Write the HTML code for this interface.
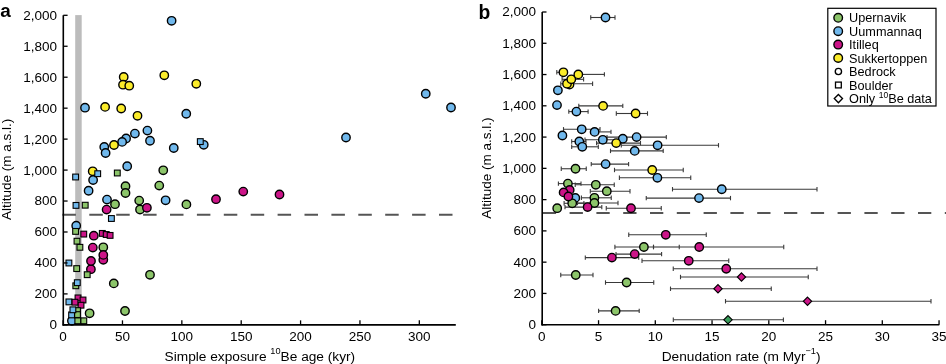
<!DOCTYPE html>
<html><head><meta charset="utf-8"><style>
html,body{margin:0;padding:0;background:#fff;}
body{width:946px;height:364px;overflow:hidden;}
svg{display:block;font-family:"Liberation Sans",sans-serif;will-change:transform;}
</style></head><body>
<svg width="946" height="364" viewBox="0 0 946 364">
<rect width="946" height="364" fill="#fff"/>
<rect x="75.2" y="15.1" width="6.5" height="309.75" fill="#bcbcbc"/>
<line x1="62.4" y1="214.7" x2="455" y2="214.7" stroke="#555" stroke-width="2" stroke-dasharray="13.5 13.4"/>
<line x1="542.8" y1="213.1" x2="946" y2="213.1" stroke="#555" stroke-width="2" stroke-dasharray="13.3 13.5"/>
<circle cx="76.20" cy="225.70" r="4.2" fill="#70b8ec" stroke="#000" stroke-width="1.4"/>
<circle cx="92.70" cy="171.30" r="4.2" fill="#fbec2a" stroke="#000" stroke-width="1.4"/>
<circle cx="71.90" cy="320.80" r="4.2" fill="#70b8ec" stroke="#000" stroke-width="1.4"/>
<circle cx="171.60" cy="20.80" r="4.2" fill="#70b8ec" stroke="#000" stroke-width="1.4"/>
<circle cx="85.00" cy="107.70" r="4.2" fill="#70b8ec" stroke="#000" stroke-width="1.4"/>
<circle cx="186.25" cy="113.75" r="4.2" fill="#70b8ec" stroke="#000" stroke-width="1.4"/>
<circle cx="147.40" cy="130.60" r="4.2" fill="#70b8ec" stroke="#000" stroke-width="1.4"/>
<circle cx="134.90" cy="133.60" r="4.2" fill="#70b8ec" stroke="#000" stroke-width="1.4"/>
<circle cx="126.10" cy="138.50" r="4.2" fill="#70b8ec" stroke="#000" stroke-width="1.4"/>
<circle cx="122.10" cy="141.90" r="4.2" fill="#70b8ec" stroke="#000" stroke-width="1.4"/>
<circle cx="150.00" cy="140.75" r="4.2" fill="#70b8ec" stroke="#000" stroke-width="1.4"/>
<circle cx="104.25" cy="146.90" r="4.2" fill="#70b8ec" stroke="#000" stroke-width="1.4"/>
<circle cx="105.60" cy="153.00" r="4.2" fill="#70b8ec" stroke="#000" stroke-width="1.4"/>
<circle cx="173.75" cy="148.00" r="4.2" fill="#70b8ec" stroke="#000" stroke-width="1.4"/>
<circle cx="203.75" cy="144.80" r="4.2" fill="#70b8ec" stroke="#000" stroke-width="1.4"/>
<circle cx="127.20" cy="166.25" r="4.2" fill="#70b8ec" stroke="#000" stroke-width="1.4"/>
<circle cx="93.10" cy="180.00" r="4.2" fill="#70b8ec" stroke="#000" stroke-width="1.4"/>
<circle cx="88.60" cy="190.75" r="4.2" fill="#70b8ec" stroke="#000" stroke-width="1.4"/>
<circle cx="107.00" cy="199.60" r="4.2" fill="#70b8ec" stroke="#000" stroke-width="1.4"/>
<circle cx="165.60" cy="200.30" r="4.2" fill="#70b8ec" stroke="#000" stroke-width="1.4"/>
<circle cx="425.75" cy="93.75" r="4.2" fill="#70b8ec" stroke="#000" stroke-width="1.4"/>
<circle cx="451.00" cy="107.50" r="4.2" fill="#70b8ec" stroke="#000" stroke-width="1.4"/>
<circle cx="346.00" cy="137.50" r="4.2" fill="#70b8ec" stroke="#000" stroke-width="1.4"/>
<circle cx="123.70" cy="77.00" r="4.2" fill="#fbec2a" stroke="#000" stroke-width="1.4"/>
<circle cx="123.00" cy="84.70" r="4.2" fill="#fbec2a" stroke="#000" stroke-width="1.4"/>
<circle cx="129.25" cy="85.70" r="4.2" fill="#fbec2a" stroke="#000" stroke-width="1.4"/>
<circle cx="164.30" cy="75.30" r="4.2" fill="#fbec2a" stroke="#000" stroke-width="1.4"/>
<circle cx="196.30" cy="83.80" r="4.2" fill="#fbec2a" stroke="#000" stroke-width="1.4"/>
<circle cx="105.10" cy="106.90" r="4.2" fill="#fbec2a" stroke="#000" stroke-width="1.4"/>
<circle cx="121.20" cy="108.50" r="4.2" fill="#fbec2a" stroke="#000" stroke-width="1.4"/>
<circle cx="137.50" cy="115.80" r="4.2" fill="#fbec2a" stroke="#000" stroke-width="1.4"/>
<circle cx="114.00" cy="145.00" r="4.2" fill="#fbec2a" stroke="#000" stroke-width="1.4"/>
<circle cx="163.25" cy="170.30" r="4.2" fill="#8cc56a" stroke="#000" stroke-width="1.4"/>
<circle cx="159.25" cy="185.60" r="4.2" fill="#8cc56a" stroke="#000" stroke-width="1.4"/>
<circle cx="125.50" cy="186.25" r="4.2" fill="#8cc56a" stroke="#000" stroke-width="1.4"/>
<circle cx="125.50" cy="193.00" r="4.2" fill="#8cc56a" stroke="#000" stroke-width="1.4"/>
<circle cx="115.00" cy="204.20" r="4.2" fill="#8cc56a" stroke="#000" stroke-width="1.4"/>
<circle cx="139.20" cy="200.60" r="4.2" fill="#8cc56a" stroke="#000" stroke-width="1.4"/>
<circle cx="140.00" cy="209.50" r="4.2" fill="#8cc56a" stroke="#000" stroke-width="1.4"/>
<circle cx="186.40" cy="204.40" r="4.2" fill="#8cc56a" stroke="#000" stroke-width="1.4"/>
<circle cx="150.00" cy="274.80" r="4.2" fill="#8cc56a" stroke="#000" stroke-width="1.4"/>
<circle cx="113.80" cy="283.40" r="4.2" fill="#8cc56a" stroke="#000" stroke-width="1.4"/>
<circle cx="125.00" cy="311.00" r="4.2" fill="#8cc56a" stroke="#000" stroke-width="1.4"/>
<circle cx="89.60" cy="313.30" r="4.2" fill="#8cc56a" stroke="#000" stroke-width="1.4"/>
<circle cx="106.60" cy="209.60" r="4.2" fill="#cc1488" stroke="#000" stroke-width="1.4"/>
<circle cx="146.90" cy="207.80" r="4.2" fill="#cc1488" stroke="#000" stroke-width="1.4"/>
<circle cx="216.00" cy="199.20" r="4.2" fill="#cc1488" stroke="#000" stroke-width="1.4"/>
<circle cx="243.25" cy="191.60" r="4.2" fill="#cc1488" stroke="#000" stroke-width="1.4"/>
<circle cx="279.50" cy="194.50" r="4.2" fill="#cc1488" stroke="#000" stroke-width="1.4"/>
<circle cx="93.80" cy="235.70" r="4.2" fill="#cc1488" stroke="#000" stroke-width="1.4"/>
<circle cx="103.30" cy="247.30" r="4.2" fill="#8cc56a" stroke="#000" stroke-width="1.4"/>
<circle cx="92.80" cy="247.60" r="4.2" fill="#cc1488" stroke="#000" stroke-width="1.4"/>
<circle cx="103.30" cy="259.80" r="4.2" fill="#cc1488" stroke="#000" stroke-width="1.4"/>
<circle cx="103.30" cy="254.90" r="4.2" fill="#cc1488" stroke="#000" stroke-width="1.4"/>
<circle cx="90.90" cy="269.20" r="4.2" fill="#cc1488" stroke="#000" stroke-width="1.4"/>
<circle cx="91.00" cy="261.00" r="4.2" fill="#cc1488" stroke="#000" stroke-width="1.4"/>
<rect x="197.40" y="138.70" width="5.8" height="5.8" fill="#70b8ec" stroke="#000" stroke-width="1.1"/>
<rect x="72.70" y="174.10" width="5.8" height="5.8" fill="#70b8ec" stroke="#000" stroke-width="1.1"/>
<rect x="94.80" y="170.80" width="5.8" height="5.8" fill="#70b8ec" stroke="#000" stroke-width="1.1"/>
<rect x="114.40" y="170.10" width="5.8" height="5.8" fill="#8cc56a" stroke="#000" stroke-width="1.1"/>
<rect x="73.10" y="202.50" width="5.8" height="5.8" fill="#70b8ec" stroke="#000" stroke-width="1.1"/>
<rect x="82.30" y="202.30" width="5.8" height="5.8" fill="#8cc56a" stroke="#000" stroke-width="1.1"/>
<rect x="108.50" y="215.60" width="5.8" height="5.8" fill="#70b8ec" stroke="#000" stroke-width="1.1"/>
<rect x="72.70" y="228.50" width="5.8" height="5.8" fill="#8cc56a" stroke="#000" stroke-width="1.1"/>
<rect x="80.85" y="231.20" width="5.8" height="5.8" fill="#cc1488" stroke="#000" stroke-width="1.1"/>
<rect x="99.40" y="230.50" width="5.8" height="5.8" fill="#cc1488" stroke="#000" stroke-width="1.1"/>
<rect x="103.30" y="231.60" width="5.8" height="5.8" fill="#cc1488" stroke="#000" stroke-width="1.1"/>
<rect x="107.20" y="232.50" width="5.8" height="5.8" fill="#cc1488" stroke="#000" stroke-width="1.1"/>
<rect x="74.10" y="238.30" width="5.8" height="5.8" fill="#8cc56a" stroke="#000" stroke-width="1.1"/>
<rect x="77.00" y="244.40" width="5.8" height="5.8" fill="#8cc56a" stroke="#000" stroke-width="1.1"/>
<rect x="66.00" y="260.10" width="5.8" height="5.8" fill="#70b8ec" stroke="#000" stroke-width="1.1"/>
<rect x="73.80" y="265.70" width="5.8" height="5.8" fill="#8cc56a" stroke="#000" stroke-width="1.1"/>
<rect x="84.30" y="271.80" width="5.8" height="5.8" fill="#8cc56a" stroke="#000" stroke-width="1.1"/>
<rect x="72.90" y="282.90" width="5.8" height="5.8" fill="#8cc56a" stroke="#000" stroke-width="1.1"/>
<rect x="74.40" y="279.80" width="5.8" height="5.8" fill="#70b8ec" stroke="#000" stroke-width="1.1"/>
<rect x="66.00" y="299.00" width="5.8" height="5.8" fill="#70b8ec" stroke="#000" stroke-width="1.1"/>
<rect x="75.10" y="295.00" width="5.8" height="5.8" fill="#cc1488" stroke="#000" stroke-width="1.1"/>
<rect x="80.10" y="297.10" width="5.8" height="5.8" fill="#cc1488" stroke="#000" stroke-width="1.1"/>
<rect x="78.10" y="302.30" width="5.8" height="5.8" fill="#cc1488" stroke="#000" stroke-width="1.1"/>
<rect x="72.10" y="299.30" width="5.8" height="5.8" fill="#cc1488" stroke="#000" stroke-width="1.1"/>
<rect x="74.60" y="307.70" width="5.8" height="5.8" fill="#8cc56a" stroke="#000" stroke-width="1.1"/>
<rect x="74.60" y="311.70" width="5.8" height="5.8" fill="#8cc56a" stroke="#000" stroke-width="1.1"/>
<rect x="74.90" y="317.90" width="5.8" height="5.8" fill="#8cc56a" stroke="#000" stroke-width="1.1"/>
<rect x="80.90" y="317.90" width="5.8" height="5.8" fill="#8cc56a" stroke="#000" stroke-width="1.1"/>
<rect x="68.70" y="312.00" width="5.8" height="5.8" fill="#70b8ec" stroke="#000" stroke-width="1.1"/>
<rect x="70.00" y="306.90" width="5.8" height="5.8" fill="#70b8ec" stroke="#000" stroke-width="1.1"/>
<line x1="63.30" y1="15.30" x2="63.30" y2="325.65" stroke="#000" stroke-width="1.6" />
<line x1="62.50" y1="324.85" x2="455.80" y2="324.85" stroke="#000" stroke-width="1.6" />
<line x1="63.30" y1="324.85" x2="67.60" y2="324.85" stroke="#000" stroke-width="1.3" />
<text x="57.00" y="329.30" font-size="13.5" text-anchor="end" font-weight="normal" >0</text>
<line x1="63.30" y1="293.90" x2="67.60" y2="293.90" stroke="#000" stroke-width="1.3" />
<text x="57.00" y="298.35" font-size="13.5" text-anchor="end" font-weight="normal" >200</text>
<line x1="63.30" y1="262.94" x2="67.60" y2="262.94" stroke="#000" stroke-width="1.3" />
<text x="57.00" y="267.39" font-size="13.5" text-anchor="end" font-weight="normal" >400</text>
<line x1="63.30" y1="231.99" x2="67.60" y2="231.99" stroke="#000" stroke-width="1.3" />
<text x="57.00" y="236.44" font-size="13.5" text-anchor="end" font-weight="normal" >600</text>
<line x1="63.30" y1="201.03" x2="67.60" y2="201.03" stroke="#000" stroke-width="1.3" />
<text x="57.00" y="205.48" font-size="13.5" text-anchor="end" font-weight="normal" >800</text>
<line x1="63.30" y1="170.08" x2="67.60" y2="170.08" stroke="#000" stroke-width="1.3" />
<text x="57.00" y="174.53" font-size="13.5" text-anchor="end" font-weight="normal" >1,000</text>
<line x1="63.30" y1="139.12" x2="67.60" y2="139.12" stroke="#000" stroke-width="1.3" />
<text x="57.00" y="143.57" font-size="13.5" text-anchor="end" font-weight="normal" >1,200</text>
<line x1="63.30" y1="108.17" x2="67.60" y2="108.17" stroke="#000" stroke-width="1.3" />
<text x="57.00" y="112.62" font-size="13.5" text-anchor="end" font-weight="normal" >1,400</text>
<line x1="63.30" y1="77.21" x2="67.60" y2="77.21" stroke="#000" stroke-width="1.3" />
<text x="57.00" y="81.66" font-size="13.5" text-anchor="end" font-weight="normal" >1,600</text>
<line x1="63.30" y1="46.26" x2="67.60" y2="46.26" stroke="#000" stroke-width="1.3" />
<text x="57.00" y="50.71" font-size="13.5" text-anchor="end" font-weight="normal" >1,800</text>
<line x1="63.30" y1="15.30" x2="67.60" y2="15.30" stroke="#000" stroke-width="1.3" />
<text x="57.00" y="19.75" font-size="13.5" text-anchor="end" font-weight="normal" >2,000</text>
<line x1="63.10" y1="324.85" x2="63.10" y2="320.35" stroke="#000" stroke-width="1.3" />
<text x="63.10" y="340.60" font-size="13.5" text-anchor="middle" font-weight="normal" >0</text>
<line x1="122.47" y1="324.85" x2="122.47" y2="320.35" stroke="#000" stroke-width="1.3" />
<text x="122.47" y="340.60" font-size="13.5" text-anchor="middle" font-weight="normal" >50</text>
<line x1="181.84" y1="324.85" x2="181.84" y2="320.35" stroke="#000" stroke-width="1.3" />
<text x="181.84" y="340.60" font-size="13.5" text-anchor="middle" font-weight="normal" >100</text>
<line x1="241.21" y1="324.85" x2="241.21" y2="320.35" stroke="#000" stroke-width="1.3" />
<text x="241.21" y="340.60" font-size="13.5" text-anchor="middle" font-weight="normal" >150</text>
<line x1="300.58" y1="324.85" x2="300.58" y2="320.35" stroke="#000" stroke-width="1.3" />
<text x="300.58" y="340.60" font-size="13.5" text-anchor="middle" font-weight="normal" >200</text>
<line x1="359.95" y1="324.85" x2="359.95" y2="320.35" stroke="#000" stroke-width="1.3" />
<text x="359.95" y="340.60" font-size="13.5" text-anchor="middle" font-weight="normal" >250</text>
<line x1="419.32" y1="324.85" x2="419.32" y2="320.35" stroke="#000" stroke-width="1.3" />
<text x="419.32" y="340.60" font-size="13.5" text-anchor="middle" font-weight="normal" >300</text>
<text x="164.60" y="360.50" font-size="13.7" text-anchor="start" font-weight="normal" >Simple exposure <tspan font-size="9.2" dy="-6.2">10</tspan><tspan dy="6.2">Be age (kyr)</tspan></text>
<text x="11.40" y="220.00" font-size="13.5" text-anchor="start" font-weight="normal" transform="rotate(-90 11.4 220.0)">Altitude (m a.s.l.)</text>
<text x="0.20" y="16.70" font-size="18.9" text-anchor="start" font-weight="bold" >a</text>
<line x1="590.75" y1="17.50" x2="615.00" y2="17.50" stroke="#393939" stroke-width="1.1" />
<line x1="590.75" y1="15.30" x2="590.75" y2="19.70" stroke="#393939" stroke-width="1.1" />
<line x1="615.00" y1="15.30" x2="615.00" y2="19.70" stroke="#393939" stroke-width="1.1" />
<line x1="568.80" y1="111.60" x2="588.10" y2="111.60" stroke="#393939" stroke-width="1.1" />
<line x1="568.80" y1="109.40" x2="568.80" y2="113.80" stroke="#393939" stroke-width="1.1" />
<line x1="588.10" y1="109.40" x2="588.10" y2="113.80" stroke="#393939" stroke-width="1.1" />
<line x1="563.50" y1="129.30" x2="600.00" y2="129.30" stroke="#393939" stroke-width="1.1" />
<line x1="563.50" y1="127.10" x2="563.50" y2="131.50" stroke="#393939" stroke-width="1.1" />
<line x1="600.00" y1="127.10" x2="600.00" y2="131.50" stroke="#393939" stroke-width="1.1" />
<line x1="594.60" y1="131.90" x2="611.00" y2="131.90" stroke="#393939" stroke-width="1.1" />
<line x1="611.00" y1="129.70" x2="611.00" y2="134.10" stroke="#393939" stroke-width="1.1" />
<line x1="571.70" y1="141.50" x2="586.00" y2="141.50" stroke="#393939" stroke-width="1.1" />
<line x1="571.70" y1="139.30" x2="571.70" y2="143.70" stroke="#393939" stroke-width="1.1" />
<line x1="586.00" y1="139.30" x2="586.00" y2="143.70" stroke="#393939" stroke-width="1.1" />
<line x1="571.70" y1="146.80" x2="598.30" y2="146.80" stroke="#393939" stroke-width="1.1" />
<line x1="571.70" y1="144.60" x2="571.70" y2="149.00" stroke="#393939" stroke-width="1.1" />
<line x1="598.30" y1="144.60" x2="598.30" y2="149.00" stroke="#393939" stroke-width="1.1" />
<line x1="585.00" y1="139.80" x2="620.00" y2="139.80" stroke="#393939" stroke-width="1.1" />
<line x1="585.00" y1="137.60" x2="585.00" y2="142.00" stroke="#393939" stroke-width="1.1" />
<line x1="620.00" y1="137.60" x2="620.00" y2="142.00" stroke="#393939" stroke-width="1.1" />
<line x1="607.00" y1="137.10" x2="666.30" y2="137.10" stroke="#393939" stroke-width="1.1" />
<line x1="607.00" y1="134.90" x2="607.00" y2="139.30" stroke="#393939" stroke-width="1.1" />
<line x1="666.30" y1="134.90" x2="666.30" y2="139.30" stroke="#393939" stroke-width="1.1" />
<line x1="621.30" y1="145.30" x2="718.50" y2="145.30" stroke="#393939" stroke-width="1.1" />
<line x1="621.30" y1="143.10" x2="621.30" y2="147.50" stroke="#393939" stroke-width="1.1" />
<line x1="718.50" y1="143.10" x2="718.50" y2="147.50" stroke="#393939" stroke-width="1.1" />
<line x1="610.50" y1="150.90" x2="663.20" y2="150.90" stroke="#393939" stroke-width="1.1" />
<line x1="610.50" y1="148.70" x2="610.50" y2="153.10" stroke="#393939" stroke-width="1.1" />
<line x1="663.20" y1="148.70" x2="663.20" y2="153.10" stroke="#393939" stroke-width="1.1" />
<line x1="591.25" y1="164.10" x2="628.60" y2="164.10" stroke="#393939" stroke-width="1.1" />
<line x1="591.25" y1="161.90" x2="591.25" y2="166.30" stroke="#393939" stroke-width="1.1" />
<line x1="628.60" y1="161.90" x2="628.60" y2="166.30" stroke="#393939" stroke-width="1.1" />
<line x1="619.40" y1="177.80" x2="690.75" y2="177.80" stroke="#393939" stroke-width="1.1" />
<line x1="619.40" y1="175.60" x2="619.40" y2="180.00" stroke="#393939" stroke-width="1.1" />
<line x1="690.75" y1="175.60" x2="690.75" y2="180.00" stroke="#393939" stroke-width="1.1" />
<line x1="672.50" y1="189.25" x2="817.00" y2="189.25" stroke="#393939" stroke-width="1.1" />
<line x1="672.50" y1="187.05" x2="672.50" y2="191.45" stroke="#393939" stroke-width="1.1" />
<line x1="817.00" y1="187.05" x2="817.00" y2="191.45" stroke="#393939" stroke-width="1.1" />
<line x1="646.25" y1="198.10" x2="730.50" y2="198.10" stroke="#393939" stroke-width="1.1" />
<line x1="646.25" y1="195.90" x2="646.25" y2="200.30" stroke="#393939" stroke-width="1.1" />
<line x1="730.50" y1="195.90" x2="730.50" y2="200.30" stroke="#393939" stroke-width="1.1" />
<line x1="560.80" y1="83.70" x2="592.60" y2="83.70" stroke="#393939" stroke-width="1.1" />
<line x1="560.80" y1="81.50" x2="560.80" y2="85.90" stroke="#393939" stroke-width="1.1" />
<line x1="592.60" y1="81.50" x2="592.60" y2="85.90" stroke="#393939" stroke-width="1.1" />
<line x1="562.10" y1="79.30" x2="583.60" y2="79.30" stroke="#393939" stroke-width="1.1" />
<line x1="562.10" y1="77.10" x2="562.10" y2="81.50" stroke="#393939" stroke-width="1.1" />
<line x1="583.60" y1="77.10" x2="583.60" y2="81.50" stroke="#393939" stroke-width="1.1" />
<line x1="556.80" y1="72.30" x2="563.40" y2="72.30" stroke="#393939" stroke-width="1.1" />
<line x1="556.80" y1="70.10" x2="556.80" y2="74.50" stroke="#393939" stroke-width="1.1" />
<line x1="578.30" y1="74.40" x2="604.40" y2="74.40" stroke="#393939" stroke-width="1.1" />
<line x1="604.40" y1="72.20" x2="604.40" y2="76.60" stroke="#393939" stroke-width="1.1" />
<line x1="578.80" y1="105.90" x2="622.80" y2="105.90" stroke="#393939" stroke-width="1.1" />
<line x1="578.80" y1="103.70" x2="578.80" y2="108.10" stroke="#393939" stroke-width="1.1" />
<line x1="622.80" y1="103.70" x2="622.80" y2="108.10" stroke="#393939" stroke-width="1.1" />
<line x1="616.30" y1="113.50" x2="647.50" y2="113.50" stroke="#393939" stroke-width="1.1" />
<line x1="616.30" y1="111.30" x2="616.30" y2="115.70" stroke="#393939" stroke-width="1.1" />
<line x1="647.50" y1="111.30" x2="647.50" y2="115.70" stroke="#393939" stroke-width="1.1" />
<line x1="596.60" y1="143.10" x2="640.50" y2="143.10" stroke="#393939" stroke-width="1.1" />
<line x1="596.60" y1="140.90" x2="596.60" y2="145.30" stroke="#393939" stroke-width="1.1" />
<line x1="640.50" y1="140.90" x2="640.50" y2="145.30" stroke="#393939" stroke-width="1.1" />
<line x1="614.50" y1="170.00" x2="683.25" y2="170.00" stroke="#393939" stroke-width="1.1" />
<line x1="614.50" y1="167.80" x2="614.50" y2="172.20" stroke="#393939" stroke-width="1.1" />
<line x1="683.25" y1="167.80" x2="683.25" y2="172.20" stroke="#393939" stroke-width="1.1" />
<line x1="561.25" y1="168.75" x2="586.25" y2="168.75" stroke="#393939" stroke-width="1.1" />
<line x1="561.25" y1="166.55" x2="561.25" y2="170.95" stroke="#393939" stroke-width="1.1" />
<line x1="586.25" y1="166.55" x2="586.25" y2="170.95" stroke="#393939" stroke-width="1.1" />
<line x1="558.40" y1="183.60" x2="581.00" y2="183.60" stroke="#393939" stroke-width="1.1" />
<line x1="558.40" y1="181.40" x2="558.40" y2="185.80" stroke="#393939" stroke-width="1.1" />
<line x1="581.00" y1="181.40" x2="581.00" y2="185.80" stroke="#393939" stroke-width="1.1" />
<line x1="575.20" y1="184.80" x2="614.25" y2="184.80" stroke="#393939" stroke-width="1.1" />
<line x1="575.20" y1="182.60" x2="575.20" y2="187.00" stroke="#393939" stroke-width="1.1" />
<line x1="614.25" y1="182.60" x2="614.25" y2="187.00" stroke="#393939" stroke-width="1.1" />
<line x1="590.30" y1="191.20" x2="630.00" y2="191.20" stroke="#393939" stroke-width="1.1" />
<line x1="590.30" y1="189.00" x2="590.30" y2="193.40" stroke="#393939" stroke-width="1.1" />
<line x1="630.00" y1="189.00" x2="630.00" y2="193.40" stroke="#393939" stroke-width="1.1" />
<line x1="581.40" y1="197.80" x2="611.25" y2="197.80" stroke="#393939" stroke-width="1.1" />
<line x1="581.40" y1="195.60" x2="581.40" y2="200.00" stroke="#393939" stroke-width="1.1" />
<line x1="611.25" y1="195.60" x2="611.25" y2="200.00" stroke="#393939" stroke-width="1.1" />
<line x1="577.50" y1="203.00" x2="618.00" y2="203.00" stroke="#393939" stroke-width="1.1" />
<line x1="577.50" y1="200.80" x2="577.50" y2="205.20" stroke="#393939" stroke-width="1.1" />
<line x1="618.00" y1="200.80" x2="618.00" y2="205.20" stroke="#393939" stroke-width="1.1" />
<line x1="564.10" y1="203.30" x2="583.90" y2="203.30" stroke="#393939" stroke-width="1.1" />
<line x1="564.10" y1="201.10" x2="564.10" y2="205.50" stroke="#393939" stroke-width="1.1" />
<line x1="583.90" y1="201.10" x2="583.90" y2="205.50" stroke="#393939" stroke-width="1.1" />
<line x1="614.90" y1="247.00" x2="653.50" y2="247.00" stroke="#393939" stroke-width="1.1" />
<line x1="614.90" y1="244.80" x2="614.90" y2="249.20" stroke="#393939" stroke-width="1.1" />
<line x1="653.50" y1="244.80" x2="653.50" y2="249.20" stroke="#393939" stroke-width="1.1" />
<line x1="560.75" y1="275.00" x2="593.00" y2="275.00" stroke="#393939" stroke-width="1.1" />
<line x1="560.75" y1="272.80" x2="560.75" y2="277.20" stroke="#393939" stroke-width="1.1" />
<line x1="593.00" y1="272.80" x2="593.00" y2="277.20" stroke="#393939" stroke-width="1.1" />
<line x1="605.50" y1="282.50" x2="653.75" y2="282.50" stroke="#393939" stroke-width="1.1" />
<line x1="605.50" y1="280.30" x2="605.50" y2="284.70" stroke="#393939" stroke-width="1.1" />
<line x1="653.75" y1="280.30" x2="653.75" y2="284.70" stroke="#393939" stroke-width="1.1" />
<line x1="598.60" y1="310.90" x2="639.20" y2="310.90" stroke="#393939" stroke-width="1.1" />
<line x1="598.60" y1="308.70" x2="598.60" y2="313.10" stroke="#393939" stroke-width="1.1" />
<line x1="639.20" y1="308.70" x2="639.20" y2="313.10" stroke="#393939" stroke-width="1.1" />
<line x1="565.00" y1="207.10" x2="601.80" y2="207.10" stroke="#393939" stroke-width="1.1" />
<line x1="565.00" y1="204.90" x2="565.00" y2="209.30" stroke="#393939" stroke-width="1.1" />
<line x1="601.80" y1="204.90" x2="601.80" y2="209.30" stroke="#393939" stroke-width="1.1" />
<line x1="606.25" y1="208.25" x2="661.25" y2="208.25" stroke="#393939" stroke-width="1.1" />
<line x1="606.25" y1="206.05" x2="606.25" y2="210.45" stroke="#393939" stroke-width="1.1" />
<line x1="661.25" y1="206.05" x2="661.25" y2="210.45" stroke="#393939" stroke-width="1.1" />
<line x1="628.75" y1="234.80" x2="706.25" y2="234.80" stroke="#393939" stroke-width="1.1" />
<line x1="628.75" y1="232.60" x2="628.75" y2="237.00" stroke="#393939" stroke-width="1.1" />
<line x1="706.25" y1="232.60" x2="706.25" y2="237.00" stroke="#393939" stroke-width="1.1" />
<line x1="616.00" y1="254.10" x2="661.60" y2="254.10" stroke="#393939" stroke-width="1.1" />
<line x1="616.00" y1="251.90" x2="616.00" y2="256.30" stroke="#393939" stroke-width="1.1" />
<line x1="661.60" y1="251.90" x2="661.60" y2="256.30" stroke="#393939" stroke-width="1.1" />
<line x1="585.30" y1="257.60" x2="638.70" y2="257.60" stroke="#393939" stroke-width="1.1" />
<line x1="585.30" y1="255.40" x2="585.30" y2="259.80" stroke="#393939" stroke-width="1.1" />
<line x1="638.70" y1="255.40" x2="638.70" y2="259.80" stroke="#393939" stroke-width="1.1" />
<line x1="679.25" y1="247.00" x2="783.75" y2="247.00" stroke="#393939" stroke-width="1.1" />
<line x1="679.25" y1="244.80" x2="679.25" y2="249.20" stroke="#393939" stroke-width="1.1" />
<line x1="783.75" y1="244.80" x2="783.75" y2="249.20" stroke="#393939" stroke-width="1.1" />
<line x1="642.00" y1="260.80" x2="728.75" y2="260.80" stroke="#393939" stroke-width="1.1" />
<line x1="642.00" y1="258.60" x2="642.00" y2="263.00" stroke="#393939" stroke-width="1.1" />
<line x1="728.75" y1="258.60" x2="728.75" y2="263.00" stroke="#393939" stroke-width="1.1" />
<line x1="673.25" y1="268.75" x2="817.00" y2="268.75" stroke="#393939" stroke-width="1.1" />
<line x1="673.25" y1="266.55" x2="673.25" y2="270.95" stroke="#393939" stroke-width="1.1" />
<line x1="817.00" y1="266.55" x2="817.00" y2="270.95" stroke="#393939" stroke-width="1.1" />
<line x1="653.50" y1="244.80" x2="653.50" y2="249.20" stroke="#393939" stroke-width="1.1" />
<line x1="653.50" y1="247.00" x2="679.25" y2="247.00" stroke="#393939" stroke-width="1.1" />
<line x1="680.50" y1="277.00" x2="808.25" y2="277.00" stroke="#393939" stroke-width="1.1" />
<line x1="680.50" y1="274.80" x2="680.50" y2="279.20" stroke="#393939" stroke-width="1.1" />
<line x1="808.25" y1="274.80" x2="808.25" y2="279.20" stroke="#393939" stroke-width="1.1" />
<line x1="670.50" y1="288.75" x2="771.25" y2="288.75" stroke="#393939" stroke-width="1.1" />
<line x1="670.50" y1="286.55" x2="670.50" y2="290.95" stroke="#393939" stroke-width="1.1" />
<line x1="771.25" y1="286.55" x2="771.25" y2="290.95" stroke="#393939" stroke-width="1.1" />
<line x1="725.50" y1="301.25" x2="931.00" y2="301.25" stroke="#393939" stroke-width="1.1" />
<line x1="725.50" y1="299.05" x2="725.50" y2="303.45" stroke="#393939" stroke-width="1.1" />
<line x1="931.00" y1="299.05" x2="931.00" y2="303.45" stroke="#393939" stroke-width="1.1" />
<line x1="673.30" y1="319.80" x2="783.40" y2="319.80" stroke="#393939" stroke-width="1.1" />
<line x1="673.30" y1="317.60" x2="673.30" y2="322.00" stroke="#393939" stroke-width="1.1" />
<line x1="783.40" y1="317.60" x2="783.40" y2="322.00" stroke="#393939" stroke-width="1.1" />
<circle cx="605.50" cy="17.50" r="4.2" fill="#70b8ec" stroke="#000" stroke-width="1.4"/>
<circle cx="557.90" cy="90.30" r="4.2" fill="#70b8ec" stroke="#000" stroke-width="1.4"/>
<circle cx="557.00" cy="105.10" r="4.2" fill="#70b8ec" stroke="#000" stroke-width="1.4"/>
<circle cx="576.40" cy="111.60" r="4.2" fill="#70b8ec" stroke="#000" stroke-width="1.4"/>
<circle cx="562.40" cy="135.50" r="4.2" fill="#70b8ec" stroke="#000" stroke-width="1.4"/>
<circle cx="581.70" cy="129.30" r="4.2" fill="#70b8ec" stroke="#000" stroke-width="1.4"/>
<circle cx="594.60" cy="131.90" r="4.2" fill="#70b8ec" stroke="#000" stroke-width="1.4"/>
<circle cx="579.30" cy="141.50" r="4.2" fill="#70b8ec" stroke="#000" stroke-width="1.4"/>
<circle cx="582.30" cy="146.80" r="4.2" fill="#70b8ec" stroke="#000" stroke-width="1.4"/>
<circle cx="602.80" cy="139.80" r="4.2" fill="#70b8ec" stroke="#000" stroke-width="1.4"/>
<circle cx="622.80" cy="138.70" r="4.2" fill="#70b8ec" stroke="#000" stroke-width="1.4"/>
<circle cx="636.60" cy="137.10" r="4.2" fill="#70b8ec" stroke="#000" stroke-width="1.4"/>
<circle cx="657.60" cy="145.30" r="4.2" fill="#70b8ec" stroke="#000" stroke-width="1.4"/>
<circle cx="634.70" cy="150.90" r="4.2" fill="#70b8ec" stroke="#000" stroke-width="1.4"/>
<circle cx="605.60" cy="164.10" r="4.2" fill="#70b8ec" stroke="#000" stroke-width="1.4"/>
<circle cx="657.40" cy="177.80" r="4.2" fill="#70b8ec" stroke="#000" stroke-width="1.4"/>
<circle cx="575.30" cy="197.90" r="4.2" fill="#70b8ec" stroke="#000" stroke-width="1.4"/>
<circle cx="721.75" cy="189.25" r="4.2" fill="#70b8ec" stroke="#000" stroke-width="1.4"/>
<circle cx="699.00" cy="198.10" r="4.2" fill="#70b8ec" stroke="#000" stroke-width="1.4"/>
<circle cx="569.50" cy="84.50" r="4.2" fill="#fbec2a" stroke="#000" stroke-width="1.4"/>
<circle cx="567.00" cy="83.70" r="4.2" fill="#fbec2a" stroke="#000" stroke-width="1.4"/>
<circle cx="571.30" cy="79.30" r="4.2" fill="#fbec2a" stroke="#000" stroke-width="1.4"/>
<circle cx="563.40" cy="72.30" r="4.2" fill="#fbec2a" stroke="#000" stroke-width="1.4"/>
<circle cx="578.30" cy="74.40" r="4.2" fill="#fbec2a" stroke="#000" stroke-width="1.4"/>
<circle cx="603.10" cy="105.90" r="4.2" fill="#fbec2a" stroke="#000" stroke-width="1.4"/>
<circle cx="635.60" cy="113.50" r="4.2" fill="#fbec2a" stroke="#000" stroke-width="1.4"/>
<circle cx="616.20" cy="143.10" r="4.2" fill="#fbec2a" stroke="#000" stroke-width="1.4"/>
<circle cx="652.20" cy="170.00" r="4.2" fill="#fbec2a" stroke="#000" stroke-width="1.4"/>
<circle cx="575.50" cy="168.75" r="4.2" fill="#8cc56a" stroke="#000" stroke-width="1.4"/>
<circle cx="567.90" cy="183.60" r="4.2" fill="#8cc56a" stroke="#000" stroke-width="1.4"/>
<circle cx="595.80" cy="184.80" r="4.2" fill="#8cc56a" stroke="#000" stroke-width="1.4"/>
<circle cx="606.80" cy="191.20" r="4.2" fill="#8cc56a" stroke="#000" stroke-width="1.4"/>
<circle cx="594.40" cy="197.80" r="4.2" fill="#8cc56a" stroke="#000" stroke-width="1.4"/>
<circle cx="594.40" cy="203.00" r="4.2" fill="#8cc56a" stroke="#000" stroke-width="1.4"/>
<circle cx="572.20" cy="203.30" r="4.2" fill="#8cc56a" stroke="#000" stroke-width="1.4"/>
<circle cx="557.20" cy="208.20" r="4.2" fill="#8cc56a" stroke="#000" stroke-width="1.4"/>
<circle cx="643.90" cy="247.00" r="4.2" fill="#8cc56a" stroke="#000" stroke-width="1.4"/>
<circle cx="575.75" cy="275.00" r="4.2" fill="#8cc56a" stroke="#000" stroke-width="1.4"/>
<circle cx="626.60" cy="282.50" r="4.2" fill="#8cc56a" stroke="#000" stroke-width="1.4"/>
<circle cx="615.60" cy="310.90" r="4.2" fill="#8cc56a" stroke="#000" stroke-width="1.4"/>
<circle cx="569.70" cy="189.90" r="4.2" fill="#cc1488" stroke="#000" stroke-width="1.4"/>
<circle cx="563.60" cy="192.40" r="4.2" fill="#cc1488" stroke="#000" stroke-width="1.4"/>
<circle cx="568.40" cy="196.50" r="4.2" fill="#cc1488" stroke="#000" stroke-width="1.4"/>
<circle cx="587.60" cy="207.10" r="4.2" fill="#cc1488" stroke="#000" stroke-width="1.4"/>
<circle cx="631.00" cy="208.25" r="4.2" fill="#cc1488" stroke="#000" stroke-width="1.4"/>
<circle cx="665.75" cy="234.80" r="4.2" fill="#cc1488" stroke="#000" stroke-width="1.4"/>
<circle cx="634.70" cy="254.10" r="4.2" fill="#cc1488" stroke="#000" stroke-width="1.4"/>
<circle cx="611.90" cy="257.60" r="4.2" fill="#cc1488" stroke="#000" stroke-width="1.4"/>
<circle cx="699.25" cy="247.00" r="4.2" fill="#cc1488" stroke="#000" stroke-width="1.4"/>
<circle cx="688.75" cy="260.80" r="4.2" fill="#cc1488" stroke="#000" stroke-width="1.4"/>
<circle cx="726.25" cy="268.75" r="4.2" fill="#cc1488" stroke="#000" stroke-width="1.4"/>
<path d="M741.50 272.80L745.70 277.00L741.50 281.20L737.30 277.00Z" fill="#cc1488" stroke="#000" stroke-width="1.1"/>
<path d="M718.00 284.55L722.20 288.75L718.00 292.95L713.80 288.75Z" fill="#cc1488" stroke="#000" stroke-width="1.1"/>
<path d="M807.50 297.05L811.70 301.25L807.50 305.45L803.30 301.25Z" fill="#cc1488" stroke="#000" stroke-width="1.1"/>
<path d="M728.00 315.60L732.20 319.80L728.00 324.00L723.80 319.80Z" fill="#3a9e5c" stroke="#000" stroke-width="1.1"/>
<line x1="542.20" y1="12.00" x2="542.20" y2="325.50" stroke="#000" stroke-width="1.6" />
<line x1="541.40" y1="324.70" x2="939.30" y2="324.70" stroke="#000" stroke-width="1.6" />
<line x1="542.20" y1="324.70" x2="546.50" y2="324.70" stroke="#000" stroke-width="1.3" />
<text x="536.00" y="329.15" font-size="13.5" text-anchor="end" font-weight="normal" >0</text>
<line x1="542.20" y1="293.43" x2="546.50" y2="293.43" stroke="#000" stroke-width="1.3" />
<text x="536.00" y="297.88" font-size="13.5" text-anchor="end" font-weight="normal" >200</text>
<line x1="542.20" y1="262.16" x2="546.50" y2="262.16" stroke="#000" stroke-width="1.3" />
<text x="536.00" y="266.61" font-size="13.5" text-anchor="end" font-weight="normal" >400</text>
<line x1="542.20" y1="230.89" x2="546.50" y2="230.89" stroke="#000" stroke-width="1.3" />
<text x="536.00" y="235.34" font-size="13.5" text-anchor="end" font-weight="normal" >600</text>
<line x1="542.20" y1="199.62" x2="546.50" y2="199.62" stroke="#000" stroke-width="1.3" />
<text x="536.00" y="204.07" font-size="13.5" text-anchor="end" font-weight="normal" >800</text>
<line x1="542.20" y1="168.35" x2="546.50" y2="168.35" stroke="#000" stroke-width="1.3" />
<text x="536.00" y="172.80" font-size="13.5" text-anchor="end" font-weight="normal" >1,000</text>
<line x1="542.20" y1="137.08" x2="546.50" y2="137.08" stroke="#000" stroke-width="1.3" />
<text x="536.00" y="141.53" font-size="13.5" text-anchor="end" font-weight="normal" >1,200</text>
<line x1="542.20" y1="105.81" x2="546.50" y2="105.81" stroke="#000" stroke-width="1.3" />
<text x="536.00" y="110.26" font-size="13.5" text-anchor="end" font-weight="normal" >1,400</text>
<line x1="542.20" y1="74.54" x2="546.50" y2="74.54" stroke="#000" stroke-width="1.3" />
<text x="536.00" y="78.99" font-size="13.5" text-anchor="end" font-weight="normal" >1,600</text>
<line x1="542.20" y1="43.27" x2="546.50" y2="43.27" stroke="#000" stroke-width="1.3" />
<text x="536.00" y="47.72" font-size="13.5" text-anchor="end" font-weight="normal" >1,800</text>
<line x1="542.20" y1="12.00" x2="546.50" y2="12.00" stroke="#000" stroke-width="1.3" />
<text x="536.00" y="16.45" font-size="13.5" text-anchor="end" font-weight="normal" >2,000</text>
<line x1="541.80" y1="324.70" x2="541.80" y2="320.20" stroke="#000" stroke-width="1.3" />
<text x="541.80" y="340.60" font-size="13.5" text-anchor="middle" font-weight="normal" >0</text>
<line x1="598.55" y1="324.70" x2="598.55" y2="320.20" stroke="#000" stroke-width="1.3" />
<text x="598.55" y="340.60" font-size="13.5" text-anchor="middle" font-weight="normal" >5</text>
<line x1="655.30" y1="324.70" x2="655.30" y2="320.20" stroke="#000" stroke-width="1.3" />
<text x="655.30" y="340.60" font-size="13.5" text-anchor="middle" font-weight="normal" >10</text>
<line x1="712.05" y1="324.70" x2="712.05" y2="320.20" stroke="#000" stroke-width="1.3" />
<text x="712.05" y="340.60" font-size="13.5" text-anchor="middle" font-weight="normal" >15</text>
<line x1="768.80" y1="324.70" x2="768.80" y2="320.20" stroke="#000" stroke-width="1.3" />
<text x="768.80" y="340.60" font-size="13.5" text-anchor="middle" font-weight="normal" >20</text>
<line x1="825.55" y1="324.70" x2="825.55" y2="320.20" stroke="#000" stroke-width="1.3" />
<text x="825.55" y="340.60" font-size="13.5" text-anchor="middle" font-weight="normal" >25</text>
<line x1="882.30" y1="324.70" x2="882.30" y2="320.20" stroke="#000" stroke-width="1.3" />
<text x="882.30" y="340.60" font-size="13.5" text-anchor="middle" font-weight="normal" >30</text>
<line x1="939.05" y1="324.70" x2="939.05" y2="320.20" stroke="#000" stroke-width="1.3" />
<text x="939.05" y="340.60" font-size="13.5" text-anchor="middle" font-weight="normal" >35</text>
<text x="661.70" y="360.50" font-size="13.7" text-anchor="start" font-weight="normal" >Denudation rate (m Myr<tspan font-size="9.2" dy="-6.2">−1</tspan><tspan dy="6.2">)</tspan></text>
<text x="491.00" y="218.80" font-size="13.5" text-anchor="start" font-weight="normal" transform="rotate(-90 491 218.8)">Altitude (m a.s.l.)</text>
<text x="478.60" y="19.10" font-size="19.3" text-anchor="start" font-weight="bold" >b</text>
<rect x="827.8" y="8.3" width="108.2" height="97.7" fill="#fff" stroke="#000" stroke-width="1.2"/>
<circle cx="838.20" cy="17.80" r="4.3" fill="#8cc56a" stroke="#000" stroke-width="1.4"/>
<circle cx="838.20" cy="31.20" r="4.3" fill="#70b8ec" stroke="#000" stroke-width="1.4"/>
<circle cx="838.20" cy="44.60" r="4.3" fill="#cc1488" stroke="#000" stroke-width="1.4"/>
<circle cx="838.20" cy="58.00" r="4.3" fill="#fbec2a" stroke="#000" stroke-width="1.4"/>
<circle cx="838.40" cy="71.50" r="3.15" fill="#fff" stroke="#000" stroke-width="1.35"/>
<rect x="835.50" y="82.10" width="5.8" height="5.8" fill="#fff" stroke="#000" stroke-width="1.3"/>
<path d="M838.40 94.50L842.50 98.60L838.40 102.70L834.30 98.60Z" fill="#fff" stroke="#000" stroke-width="1.35"/>
<text x="849.10" y="22.30" font-size="12.7" text-anchor="start" font-weight="normal" >Upernavik</text>
<text x="849.10" y="35.70" font-size="12.7" text-anchor="start" font-weight="normal" >Uummannaq</text>
<text x="849.10" y="49.10" font-size="12.7" text-anchor="start" font-weight="normal" >Itilleq</text>
<text x="849.10" y="62.50" font-size="12.7" text-anchor="start" font-weight="normal" >Sukkertoppen</text>
<text x="849.10" y="76.00" font-size="12.7" text-anchor="start" font-weight="normal" >Bedrock</text>
<text x="849.10" y="89.50" font-size="12.7" text-anchor="start" font-weight="normal" >Boulder</text>
<text x="849.10" y="103.10" font-size="12.7" text-anchor="start" font-weight="normal" >Only <tspan font-size="8.5" dy="-5">10</tspan><tspan dy="5">Be data</tspan></text>
</svg>
</body></html>
